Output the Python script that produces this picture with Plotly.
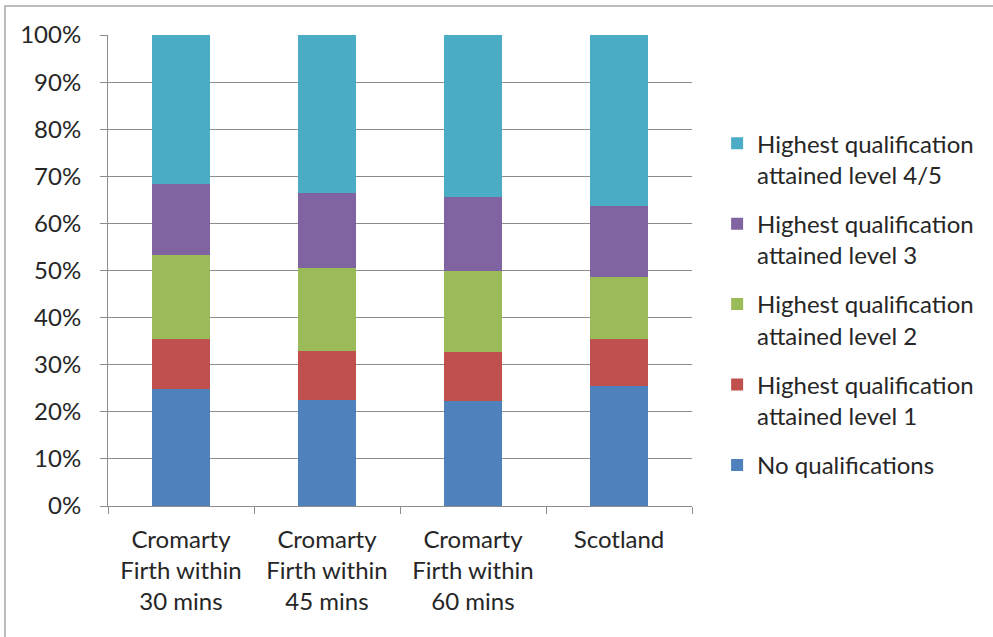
import plotly.graph_objects as go

# Categories (area) and share of residents by highest qualification, in %
categories = [
    "Cromarty<br>Firth within<br>30 mins",
    "Cromarty<br>Firth within<br>45 mins",
    "Cromarty<br>Firth within<br>60 mins",
    "Scotland",
]
no_qualifications = [24.8, 22.6, 22.2, 25.5]
level_1 = [10.6, 10.4, 10.5, 9.9]
level_2 = [17.8, 17.5, 17.2, 13.3]
level_3 = [15.2, 16.0, 15.8, 15.0]
level_4_5 = [31.6, 33.5, 34.3, 36.3]

series = [
    ("No qualifications", no_qualifications, "#4F81BD"),
    ("Highest qualification<br>attained level 1", level_1, "#C0504D"),
    ("Highest qualification<br>attained level 2", level_2, "#9BBB59"),
    ("Highest qualification<br>attained level 3", level_3, "#8064A2"),
    ("Highest qualification<br>attained level 4/5", level_4_5, "#4BACC6"),
]

FONT = "Lato, 'Open Sans', sans-serif"
TEXT = "#262626"
GRID = "#8c8c8c"

fig = go.Figure()
n = len(series)
for i, (name, vals, color) in enumerate(series):
    fig.add_trace(go.Bar(
        x=categories, y=vals, name=name,
        marker=dict(color=color, line=dict(width=0)),
        legendgroup=f"g{i}",
        legendrank=(n - i) * 100,  # top segment listed first in the legend
    ))

fig.update_layout(
    barmode="stack",
    bargap=0.6,
    width=993, height=637,
    margin=dict(l=108, r=301, t=35, b=131),
    paper_bgcolor="white", plot_bgcolor="white",
    font=dict(family=FONT, size=24, color=TEXT),
    showlegend=True,
    legend=dict(
        x=1.043, y=0.817, xanchor="left", yanchor="top",
        traceorder="grouped", valign="top",
        tracegroupgap=15,
        font=dict(family=FONT, size=24, color=TEXT),
        itemwidth=30,
    ),
    xaxis=dict(
        showline=True, linecolor=GRID, linewidth=1,
        ticks="outside", ticklen=7, tickcolor=GRID,
        tickson="boundaries",
        tickfont=dict(family=FONT, size=24, color=TEXT),
        ticklabelstandoff=12,
    ),
    yaxis=dict(
        range=[0, 100], dtick=10, ticksuffix="%",
        showline=True, linecolor=GRID, linewidth=1,
        showgrid=True, gridcolor=GRID, gridwidth=1,
        ticks="outside", ticklen=7, tickcolor=GRID,
        tickfont=dict(family=FONT, size=24, color=TEXT),
        ticklabelstandoff=14,
        zeroline=False,
    ),
    shapes=[
        dict(type="rect", xref="paper", yref="paper",
             x0=-103 / 584, x1=1 + 310 / 584, y0=-140 / 471, y1=1 + 29 / 471,
             line=dict(color="#a6a6a6", width=1.5), fillcolor="rgba(0,0,0,0)",
             layer="below"),
    ],
)

fig.write_html("out.html")
